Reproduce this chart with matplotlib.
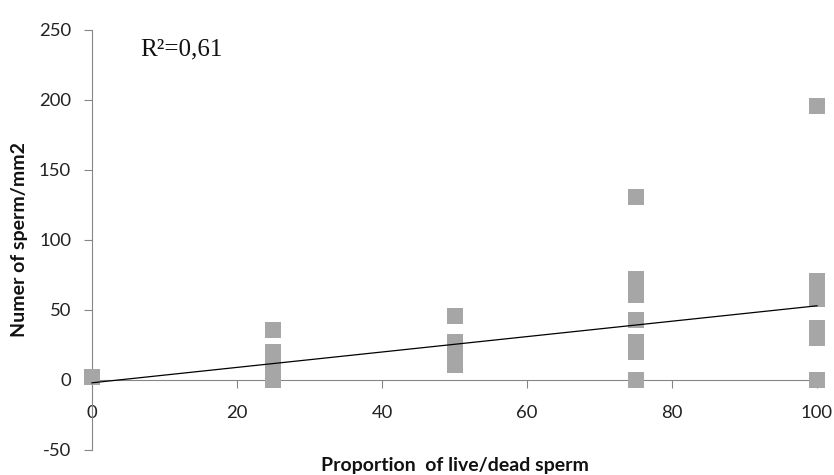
import matplotlib
matplotlib.use("Agg")
import matplotlib.pyplot as plt
import numpy as np

plt.rcParams["axes.unicode_minus"] = False

# Data
x_pos = [0, 25, 25, 25, 25, 50, 50, 50, 50,
         75, 75, 75, 75, 75, 75, 75,
         100, 100, 100, 100, 100, 100, 100]
sperm = [2, 36, 20, 10, 0, 46, 27, 19, 11,
         131, 72, 61, 43, 27, 20, 0,
         196, 71, 64, 58, 37, 30, 0]
trend_intercept = -2.0
trend_slope = 0.55
x_ticks = [0, 20, 40, 60, 80, 100]
y_ticks = [-50, 0, 50, 100, 150, 200, 250]
r2_text = "R\u00b2=0,61"

fig = plt.figure(figsize=(8.34, 4.75), dpi=100)
ax = fig.add_axes([92/834, 1-450/475, (817-92)/834, 420/475])

gray = "#a6a6a6"
spine_c = "#868686"
ax.plot(x_pos, sperm, linestyle="none", marker="s", markersize=12.2,
        color=gray, markeredgewidth=0, zorder=3, clip_on=False)

xl = np.array([0, 100])
ax.plot(xl, trend_intercept + trend_slope*xl, color="black", lw=0.9, zorder=4,
        clip_on=False)

ax.set_xlim(0, 100)
ax.set_ylim(-50, 250)
ax.set_xticks(x_ticks)
ax.set_yticks(y_ticks)

for s in ["top", "right"]:
    ax.spines[s].set_visible(False)
ax.spines["bottom"].set_position(("data", 0))
ax.spines["bottom"].set_color(spine_c)
ax.spines["left"].set_color(spine_c)
ax.spines["bottom"].set_zorder(1)

ax.tick_params(axis="both", colors=spine_c, length=6, width=0.8, labelcolor="#222222")
ax.tick_params(axis="y", pad=9)
ax.tick_params(axis="x", pad=12)
for lab in ax.get_xticklabels() + ax.get_yticklabels():
    lab.set_fontfamily("Lato")
    lab.set_fontsize(13.3)

ax.set_xlabel("Proportion  of live/dead sperm", fontfamily="Lato",
              fontweight="bold", fontsize=14, color="#111111", va="center")
ax.xaxis.set_label_coords(0.5, -0.038)
ax.set_ylabel("Numer of sperm/mm2", fontfamily="Lato", fontweight="bold",
              fontsize=14, color="#111111", va="center")
ax.yaxis.set_label_coords(-0.1, 0.5)

ax.text(6.6, 236, r2_text, fontfamily="Liberation Serif", fontsize=18,
        color="#111111", va="center", ha="left")

fig.savefig("out.png", dpi=100)
